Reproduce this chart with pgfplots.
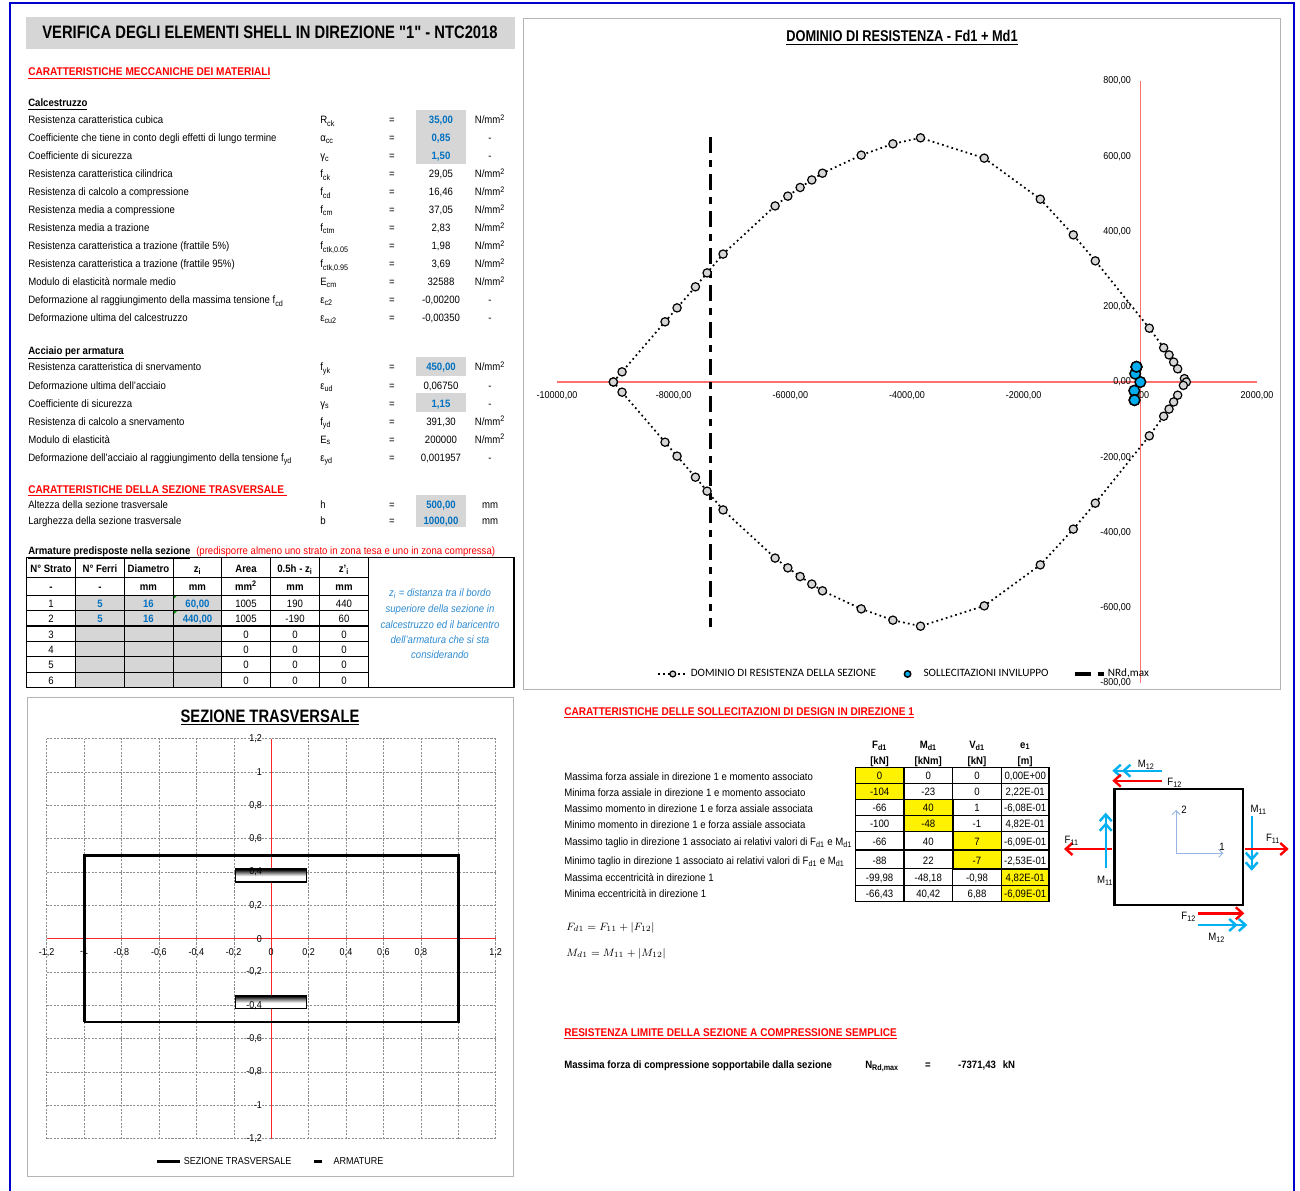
\documentclass[border=0pt]{standalone}
\usepackage{pgfplots}
\usepackage{fontspec}
\pgfplotsset{compat=1.18}
\usetikzlibrary{arrows.meta}
\setmainfont[FakeStretch=0.9]{Liberation Sans}
\newfontfamily\titlef[FakeStretch=0.82]{Liberation Sans}
\newfontfamily\carl{Carlito}
\definecolor{cellgrey}{HTML}{D6D6D6}
\definecolor{inblue}{HTML}{0070C0}
\definecolor{noteblue}{HTML}{2E8AD0}
\definecolor{axred}{HTML}{FF7070}
\definecolor{arrblue}{HTML}{00B0F0}
\definecolor{frameg}{HTML}{B4B4B4}
\definecolor{markblue}{HTML}{00AEEF}
\pgfdeclareverticalshading{armgrad}{100bp}{color(0bp)=(white); color(25bp)=(white); color(47bp)=(white); color(60bp)=(gray); color(72bp)=(black); color(100bp)=(black)}
\pgfplotsset{
  legdom/.style={legend image code/.code={\draw[mark repeat=2,mark phase=2,##1,mark size=2.2pt] plot coordinates {(0cm,0cm)(0.38cm,0cm)(0.76cm,0cm)};}},
  legsol/.style={legend image code/.code={\path[draw=none] (0cm,0cm)--(0.53cm,0cm);\draw[##1,mark size=2.4pt] plot coordinates {(0.18cm,0cm)};}},
  legnrd/.style={legend image code/.code={\draw[black,line width=2.3pt] (0cm,0cm)--(0.46cm,0cm) (0.6cm,0cm)--(0.76cm,0cm);}},
  legarm/.style={legend image code/.code={\draw[black,line width=2pt] (0.1cm,0)--(0.32cm,0);\path[draw=none] (0cm,0)--(0.55cm,0);}},
  secbase/.style={at={(35pt,-854pt)},anchor=south west,scale only axis,width=336.75pt,height=300pt,
    xmin=-1.2,xmax=1.2,ymin=-1.2,ymax=1.2,axis lines=middle,
    hide obscured x ticks=false,hide obscured y ticks=false,
    xtick={-1.2,-1,-0.8,-0.6,-0.4,-0.2,0,0.2,0.4,0.6,0.8,1,1.2},
    ytick={-1.2,-1,-0.8,-0.6,-0.4,-0.2,0,0.2,0.4,0.6,0.8,1,1.2},
    major tick length=0pt,clip=false}}
\newcommand{\T}[3]{\node[anchor=base west,inner sep=0pt] at (#1,#2+4) {#3};}
\newcommand{\C}[3]{\node[anchor=base,inner sep=0pt] at (#1,#2+4) {#3};}
\newcommand{\N}{N/mm\textsuperscript{2}}
\newcommand{\hd}{\fontsize{8.4}{10}\selectfont\bfseries\color{red}}
\newcommand{\Row}[5]{\T{28}{#1}{#2}\T{320}{#1}{#3}\C{392}{#1}{=}\C{441}{#1}{#4}\C{490}{#1}{#5}}
\newcommand{\sub}[1]{\textsubscript{#1}}
\newcommand{\RowB}[4]{\C{100}{#1}{\bfseries\color{inblue}#2}\C{148.5}{#1}{\bfseries\color{inblue}#3}\C{197.5}{#1}{\bfseries\color{inblue}#4}}
\newcommand{\RR}[7]{\T{564}{#2}{#1}\C{879.6}{#3}{#4}\C{928.3}{#3}{#5}\C{977}{#3}{#6}\C{1025.2}{#3}{#7}}
\begin{document}
\begin{tikzpicture}[x=0.75pt,y=-0.75pt,font=\fontsize{8}{9.6}\selectfont]
\path[use as bounding box] (0,0) rectangle (1300,1191);
% page frame
\draw[draw={rgb,255:red,0;green,0;blue,205},line width=1.2pt] (10,1191)--(10,3)--(1294,3)--(1294,1191);
% title
\fill[cellgrey] (26,17) rectangle (515,49);
\C{270}{35}{\titlef\fontsize{13.5}{16}\selectfont\bfseries VERIFICA DEGLI ELEMENTI SHELL IN DIREZIONE "1" - NTC2018}
\T{28}{72}{\hd\underline{CARATTERISTICHE MECCANICHE DEI MATERIALI}}
\T{28}{103}{\bfseries\underline{Calcestruzzo}}
% grey cells
\fill[cellgrey] (416,110) rectangle (466,164);
\fill[cellgrey] (416,357) rectangle (466,376);
\fill[cellgrey] (416,393) rectangle (466,412);
\fill[cellgrey] (416,495) rectangle (466,527);
\Row{120}{Resistenza caratteristica cubica}{R\sub{ck}}{\bfseries\color{inblue}35,00}{\N}
\Row{138}{Coefficiente che tiene in conto degli effetti di lungo termine}{α\sub{cc}}{\bfseries\color{inblue}0,85}{-}
\Row{156}{Coefficiente di sicurezza}{γ\sub{c}}{\bfseries\color{inblue}1,50}{-}
\Row{174}{Resistenza caratteristica cilindrica}{f\sub{ck}}{29,05}{\N}
\Row{192}{Resistenza di calcolo a compressione}{f\sub{cd}}{16,46}{\N}
\Row{210}{Resistenza media a compressione}{f\sub{cm}}{37,05}{\N}
\Row{228}{Resistenza media a trazione}{f\sub{ctm}}{2,83}{\N}
\Row{246}{Resistenza caratteristica a trazione (frattile 5\%)}{f\sub{ctk,0.05}}{1,98}{\N}
\Row{264}{Resistenza caratteristica a trazione (frattile 95\%)}{f\sub{ctk,0.95}}{3,69}{\N}
\Row{282}{Modulo di elasticità normale medio}{E\sub{cm}}{32588}{\N}
\Row{300}{Deformazione al raggiungimento della massima tensione f\sub{cd}}{ε\sub{c2}}{-0,00200}{-}
\Row{318}{Deformazione ultima del calcestruzzo}{ε\sub{cu2}}{-0,00350}{-}
\T{28}{350}{\bfseries\underline{Acciaio per armatura}}
\Row{367}{Resistenza caratteristica di snervamento}{f\sub{yk}}{\bfseries\color{inblue}450,00}{\N}
\Row{385}{Deformazione ultima dell'acciaio}{ε\sub{ud}}{0,06750}{-}
\Row{403}{Coefficiente di sicurezza}{γ\sub{s}}{\bfseries\color{inblue}1,15}{-}
\Row{421}{Resistenza di calcolo a snervamento}{f\sub{yd}}{391,30}{\N}
\Row{439}{Modulo di elasticità}{E\sub{s}}{200000}{\N}
\Row{457}{Deformazione dell'acciaio al raggiungimento della tensione f\sub{yd}}{ε\sub{yd}}{0,001957}{-}
\T{28}{489}{\hd\underline{CARATTERISTICHE DELLA SEZIONE TRASVERSALE\ }}
\Row{504}{Altezza della sezione trasversale}{h}{\bfseries\color{inblue}500,00}{mm}
\Row{520}{Larghezza della sezione trasversale}{b}{\bfseries\color{inblue}1000,00}{mm}
\T{28}{550}{\bfseries\underline{Armature predisposte nella sezione}}
\T{196}{550}{\color{red}(predisporre almeno uno strato in zona tesa e uno in zona compressa)}
% armature table
\fill[cellgrey] (75.7,595.3) rectangle (221.7,687.3);
\fill[green!60!black] (173.3,595.3)--(177.3,595.3)--(173.3,599.3)--cycle;
\fill[green!60!black] (173.3,610.7)--(177.3,610.7)--(173.3,614.7)--cycle;
\draw[line width=0.8pt] (26.3,557.3) rectangle (514,687.3);
\foreach \yy in {577.3,595.3,610.7,626,641.7,656.7,672.3}{\draw[line width=0.8pt] (26.3,\yy)--(368.3,\yy);}
\foreach \xx in {75.7,124.3,173.3,221.7,270.3,319.3,368.3}{\draw[line width=0.8pt] (\xx,557.3)--(\xx,687.3);}
\C{51}{568}{\bfseries N° Strato}\C{100}{568}{\bfseries N° Ferri}\C{148.5}{568}{\bfseries Diametro}\C{197.5}{568}{\bfseries z\sub{i}}\C{246}{568}{\bfseries Area}\C{295}{568}{\bfseries 0.5h - z\sub{i}}\C{344}{568}{\bfseries z'\sub{i}}
\C{51}{586}{\bfseries -}\C{100}{586}{\bfseries -}\C{148.5}{586}{\bfseries mm}\C{197.5}{586}{\bfseries mm}\C{246}{586}{\bfseries mm\textsuperscript{2}}\C{295}{586}{\bfseries mm}\C{344}{586}{\bfseries mm}
\C{51}{603}{1}\RowB{603}{5}{16}{60,00}\C{246}{603}{1005}\C{295}{603}{190}\C{344}{603}{440}
\C{51}{618}{2}\RowB{618}{5}{16}{440,00}\C{246}{618}{1005}\C{295}{618}{-190}\C{344}{618}{60}
\C{51}{634}{3}\C{246}{634}{0}\C{295}{634}{0}\C{344}{634}{0}
\C{51}{649}{4}\C{246}{649}{0}\C{295}{649}{0}\C{344}{649}{0}
\C{51}{664}{5}\C{246}{664}{0}\C{295}{664}{0}\C{344}{664}{0}
\C{51}{680}{6}\C{246}{680}{0}\C{295}{680}{0}\C{344}{680}{0}
\C{440}{592}{\itshape\color{noteblue}z\sub{i} = distanza tra il bordo}
\C{440}{608}{\itshape\color{noteblue}superiore della sezione in}
\C{440}{624}{\itshape\color{noteblue}calcestruzzo ed il baricentro}
\C{440}{639}{\itshape\color{noteblue}dell'armatura che si sta}
\C{440}{654}{\itshape\color{noteblue}considerando}
% chart frames
\draw[frameg,line width=0.7pt] (523,18) rectangle (1280,689.5);
\draw[frameg,line width=0.7pt] (27,697) rectangle (513.5,1176);
\C{902}{38}{\titlef\fontsize{11.7}{14}\selectfont\bfseries\underline{DOMINIO DI RESISTENZA - Fd1 + Md1}}
\C{270}{718}{\titlef\fontsize{13.5}{16}\selectfont\bfseries\underline{SEZIONE TRASVERSALE}}
% domain chart
\begin{axis}[at={(417.75pt,-512.25pt)},anchor=south west,scale only axis,width=525pt,height=451.5pt,
  xmin=-10000,xmax=2000,ymin=-800,ymax=800,axis lines=middle,
  hide obscured x ticks=false,hide obscured y ticks=false,
  axis line style={-,color=axred,line width=1.1pt},
  xtick={-10000,-8000,-6000,-4000,-2000,0,2000},
  ytick={-800,-600,-400,-200,0,200,400,600,800},
  major tick length=0pt,scaled ticks=false,clip=false,
  /pgf/number format/.cd,fixed,fixed zerofill,precision=2,use comma,1000 sep={},assume math mode=true,
  /pgfplots/.cd,
  xticklabel style={font=\fontsize{7.5}{9}\selectfont,yshift=-3.5pt,anchor=north},
  yticklabel style={font=\fontsize{7.5}{9}\selectfont,xshift=-3.5pt,anchor=east},
  legend style={at={(0.4965,0.015)},anchor=center,draw=none,fill=none,legend columns=3,inner sep=0pt,
    font=\carl\fontsize{8.4}{10}\selectfont,
    /tikz/every even column/.append style={column sep=16.5pt}},
  legend cell align=left]
\addplot[black,line width=1.3pt,dash pattern=on 1.3pt off 2.4pt,mark=*,mark size=3.1pt,
  mark options={solid,fill=cellgrey,draw=black,line width=0.9pt},legdom] coordinates {
(-9034,0)(-8885,27)(-8148,160)(-7942,197)(-7627,253)(-7427,290)(-7153,340)(-6261,468)(-6043,494)(-5832,517)(-5632,537)(-5449,555)(-4785,603)(-4242,633)(-3768,649)(-2676,595)(-1715,486)(-1149,391)(-772,322)(154,143)(400,91)(492,72)(571,53)(640,35)(755,9)(789,0)
(738,-9)(640,-35)(571,-53)(492,-72)(400,-91)(154,-143)(-772,-322)(-1149,-391)(-1715,-486)(-2676,-595)(-3768,-649)(-4242,-633)(-4785,-603)(-5449,-555)(-5632,-537)(-5832,-517)(-6043,-494)(-6261,-468)(-7153,-340)(-7427,-290)(-7627,-253)(-7942,-197)(-8148,-160)(-8885,-27)(-9034,0)};
\addlegendentry{DOMINIO DI RESISTENZA DELLA SEZIONE\hspace{21.75pt}}
\addplot[only marks,mark=*,mark size=4pt,mark options={fill=markblue,draw=black,line width=1.1pt},legsol] coordinates {
(0,0)(-104,-23)(-66,40)(-100,-48)(-66,40)(-88,22)(-99.98,-48.18)(-66.43,40.42)};
\addlegendentry{SOLLECITAZIONI INVILUPPO}
\addplot[black,line width=2.5pt,dash pattern=on 12pt off 5.25pt on 5.25pt off 5.25pt,legnrd] coordinates {(-7371.43,650)(-7371.43,-650)};
\addlegendentry{NRd,max}
\end{axis}
% section chart: grid, axis lines and plots
\begin{axis}[secbase,
  axis line style={-,color=red!85,line width=0.8pt},
  grid=major,grid style={black!45,line width=0.35pt,dash pattern=on 1.6pt off 1pt},
  xticklabels={},yticklabels={},
  legend style={at={(0.499,-0.0575)},anchor=center,draw=none,fill=none,legend columns=2,inner sep=0pt,
    font=\fontsize{7.5}{9}\selectfont,
    /tikz/every even column/.append style={column sep=12pt}},
  legend cell align=left]
\addplot[black,line width=2.2pt] coordinates {(-1,-0.5)(1,-0.5)(1,0.5)(-1,0.5)(-1,-0.5)};
\addlegendentry{SEZIONE TRASVERSALE}
\addlegendimage{legarm}
\addlegendentry{ARMATURE}
\addplot[draw=black,line width=1.1pt,shading=armgrad] coordinates {(-0.19,0.34)(0.19,0.34)(0.19,0.42)(-0.19,0.42)} --cycle;
\addplot[draw=black,line width=1.1pt,shading=armgrad] coordinates {(-0.19,-0.42)(0.19,-0.42)(0.19,-0.34)(-0.19,-0.34)} --cycle;
\end{axis}
% section chart: tick labels above the plots
\begin{axis}[secbase,
  axis line style={draw=none},
  xticklabels={{-1,2},{-1},{-0,8},{-0,6},{-0,4},{-0,2},{0},{0,2},{0,4},{0,6},{0,8},{},{1,2}},
  yticklabels={{-1,2},{-1},{-0,8},{-0,6},{-0,4},{-0,2},{0},{0,2},{0,4},{0,6},{0,8},{1},{1,2}},
  xticklabel style={font=\fontsize{7.5}{9}\selectfont,yshift=-3.5pt,anchor=north},
  yticklabel style={font=\fontsize{7.5}{9}\selectfont,xshift=-3.5pt,anchor=east}]
\end{axis}
% right table
\T{564}{711}{\hd\underline{CARATTERISTICHE DELLE SOLLECITAZIONI DI DESIGN IN DIREZIONE 1}}
\C{879.6}{744}{\bfseries F\sub{d1}}\C{928.3}{744}{\bfseries M\sub{d1}}\C{977}{744}{\bfseries V\sub{d1}}\C{1025.2}{744}{\bfseries e\sub{1}}
\C{879.6}{760}{\bfseries [kN]}\C{928.3}{760}{\bfseries [kNm]}\C{977}{760}{\bfseries [kN]}\C{1025.2}{760}{\bfseries [m]}
\fill[yellow] (855.3,767.3) rectangle (904,799.3);
\fill[yellow] (904,799.3) rectangle (952.7,831.3);
\fill[yellow] (952.7,831.3) rectangle (1001.3,868.7);
\fill[yellow] (1001.3,868.7) rectangle (1049,901.3);
\foreach \yy in {767.3,783.3,799.3,815.3,831.3,850,868.7,885.3,901.3}{\draw[line width=0.8pt] (855.3,\yy)--(1049,\yy);}
\foreach \xx in {855.3,904,952.7,1001.3,1049}{\draw[line width=0.8pt] (\xx,767.3)--(\xx,901.3);}
\draw[line width=1.2pt] (855.3,767.3) rectangle (904,799.3);
\draw[line width=1.2pt] (904,799.3) rectangle (952.7,831.3);
\draw[line width=1.2pt] (952.7,831.3) rectangle (1001.3,868.7);
\draw[line width=1.2pt] (1001.3,868.7) rectangle (1049,901.3);
\RR{Massima forza assiale in direzione 1 e momento associato}{776}{775.5}{0}{0}{0}{0,00E+00}
\RR{Minima forza assiale in direzione 1 e momento associato}{792}{791.5}{-104}{-23}{0}{2,22E-01}
\RR{Massimo momento  in direzione 1 e forza assiale associata}{808}{807.5}{-66}{40}{1}{-6,08E-01}
\RR{Minimo momento in direzione 1 e forza assiale associata}{824}{823.5}{-100}{-48}{-1}{4,82E-01}
\RR{Massimo taglio in direzione 1 associato ai relativi valori di F\sub{d1} e M\sub{d1}}{841}{841}{-66}{40}{7}{-6,09E-01}
\RR{Minimo taglio in direzione 1 associato ai relativi valori di F\sub{d1} e M\sub{d1}}{860}{860}{-88}{22}{-7}{-2,53E-01}
\RR{Massima eccentricità in direzione 1}{877}{877}{-99,98}{-48,18}{-0,98}{4,82E-01}
\RR{Minima eccentricità in direzione 1}{893}{893}{-66,43}{40,42}{6,88}{-6,09E-01}
\T{566}{926}{\(F_{d1}=F_{11}+|F_{12}|\)}
\T{566}{952}{\(M_{d1}=M_{11}+|M_{12}|\)}
\T{564}{1032}{\hd\underline{RESISTENZA LIMITE DELLA SEZIONE A COMPRESSIONE SEMPLICE}}
\T{564}{1064}{\bfseries Massima forza di compressione sopportabile dalla sezione}
\T{865}{1064}{\bfseries N\sub{Rd,max}}\C{928}{1064}{\bfseries =}\C{977}{1064}{\bfseries -7371,43}\C{1009}{1064}{\bfseries kN}
% stress diagram
\draw[line width=1.8pt] (1114.3,789) rectangle (1242.7,904.7);
\draw[draw={rgb,255:red,150;green,180;blue,225},line width=0.7pt,-{Straight Barb[length=3pt,width=6pt]}] (1176,853.3)--(1176,810);
\draw[draw={rgb,255:red,150;green,180;blue,225},line width=0.7pt,-{Straight Barb[length=3pt,width=6pt]}] (1176,853.3)--(1223.3,853.3);
\tikzset{rr/.style={red,line width=1.8pt,-{Straight Barb[length=5pt,width=9pt]}},
 bb/.style={arrblue,line width=1.8pt,-{Straight Barb[length=5pt,width=9pt]Straight Barb[length=5pt,width=9pt]}}}
\draw[bb] (1161.7,770.7)--(1112.3,770.7);
\draw[rr] (1161.7,780.7)--(1112.3,780.7);
\draw[rr] (1111.7,849)--(1064,849);
\draw[bb] (1105.7,868.3)--(1105.7,812.7);
\draw[bb] (1251.7,816)--(1251.7,870.7);
\draw[rr] (1245,849)--(1288.7,849);
\draw[rr] (1198.3,913.3)--(1244.3,913.3);
\draw[bb] (1198.3,925)--(1247.3,925);
\C{1184}{809}{2}\C{1222}{846}{1}
\C{1146.3}{763.3}{M\sub{12}}\C{1174.7}{781.3}{F\sub{12}}\C{1258.7}{808.3}{M\sub{11}}\C{1273}{837.3}{F\sub{11}}\C{1071.7}{839.3}{F\sub{11}}\C{1105.3}{879.3}{M\sub{11}}\C{1188.7}{915.7}{F\sub{12}}\C{1216.7}{936.7}{M\sub{12}}
\end{tikzpicture}
\end{document}
